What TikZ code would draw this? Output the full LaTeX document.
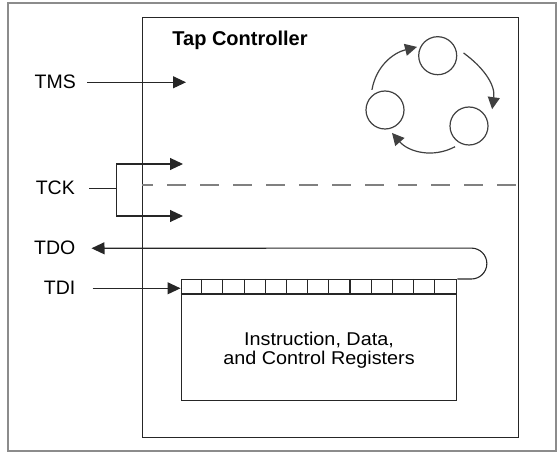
\documentclass[tikz,border=0pt]{standalone}
\usepackage{fontspec}
\setmainfont{Liberation Sans}
\newfontfamily\regfont[FakeStretch=1.07]{Liberation Sans}
\usetikzlibrary{arrows.meta,calc}
\begin{document}
\begin{tikzpicture}[x=1pt,y=1pt,
  line/.style={draw=black!85, line width=1.1pt},
  arr/.style={line, -{Triangle[length=13pt,width=12pt]}},
  carr/.style={draw=black!75, line width=1.2pt, -{Triangle[length=12pt,width=12pt]}},
  lbl/.style={inner sep=0pt, anchor=base east, font=\fontsize{19.5}{22}\selectfont},
  state/.style={circle, draw=black!75, line width=1.2pt, minimum size=38pt, inner sep=0pt},
  box/.style={draw=black!85, line width=1.4pt, anchor=north west, inner sep=0pt},
  dashline/.style={draw=black!50, line width=1.5pt, dash pattern=on 18.5pt off 14.5pt, dash phase=7.7pt}
]
\useasboundingbox (0,0) rectangle (557,-454);
% outer frame
\draw[draw=black!45, line width=2pt] (8,-3.5) rectangle (555.5,-451);
% tap controller box
\node[box, minimum width=375.8pt, minimum height=419.5pt] (tap) at (141.7,-17) {};
\node[anchor=base, font=\bfseries\fontsize{20}{24}\selectfont, inner sep=0pt] (title) at (240,-46) {Tap Controller};
% state circles
\node[state] (ct) at (437.7,-55.7) {};
\node[state] (cl) at (385,-110) {};
\node[state] (cr) at (469,-126) {};
\draw[carr] ($(cl)+(123:24)$) to[out=80,in=194] ($(ct)+(157:22.5)$);
\draw[carr] ($(ct)+(6:26)$) to[out=-36,in=82] ($(cr)+(36:28.6)$);
\draw[carr] ($(cr)+(236:25)$) to[out=208,in=-49] ($(cl)+(-73:24)$);
% register
\node[box, minimum width=275.5pt, minimum height=121pt] (reg) at (180.5,-279) {};
\draw[line] ($(reg.north west)+(0,-15)$) -- ($(reg.north east)+(0,-15)$);
\foreach \i in {1,...,12} \draw[line] ($(reg.north west)+(\i*21.19,0)$) -- ++(0,-15);
\node[font=\regfont\fontsize{18.5}{19.5}\selectfont, align=center, inner sep=0pt] (regtext) at (319,-350) {Instruction, Data,\\and Control Registers};
% labels
\node[lbl] (tms) at (76,-89) {TMS};
\node[lbl] (tck) at (75,-195) {TCK};
\node[lbl] (tdo) at (75.5,-255) {TDO};
\node[lbl] (tdi) at (75.5,-295) {TDI};
% TMS
\coordinate (tmsend) at (186,0);
\draw[arr] ([xshift=11pt]tms.east) -- (tmsend |- tms.east);
% TCK
\coordinate (forkx) at (116.5,0);
\coordinate (fork) at (forkx |- tck.east);
\coordinate (tckup) at (183,-164);
\coordinate (tckdn) at (183,-216);
\draw[line] ([xshift=14pt]tck.east) -- (fork);
\draw[arr] (fork) |- (tckup);
\draw[arr] (fork) |- (tckdn);
% dashed divider
\coordinate (dashy) at (0,-185);
\draw[dashline] (tap.west |- dashy) -- (tap.east |- dashy);
% TDO loop
\draw[arr] (reg.north east) -- ++(14,0) arc[start angle=-90,end angle=90,radius=15.45] -- ([xshift=16pt]tdo.east);
% TDI
\draw[arr] ([xshift=17pt]tdi.east) -- (reg.west |- tdi.east);
\end{tikzpicture}
\end{document}
